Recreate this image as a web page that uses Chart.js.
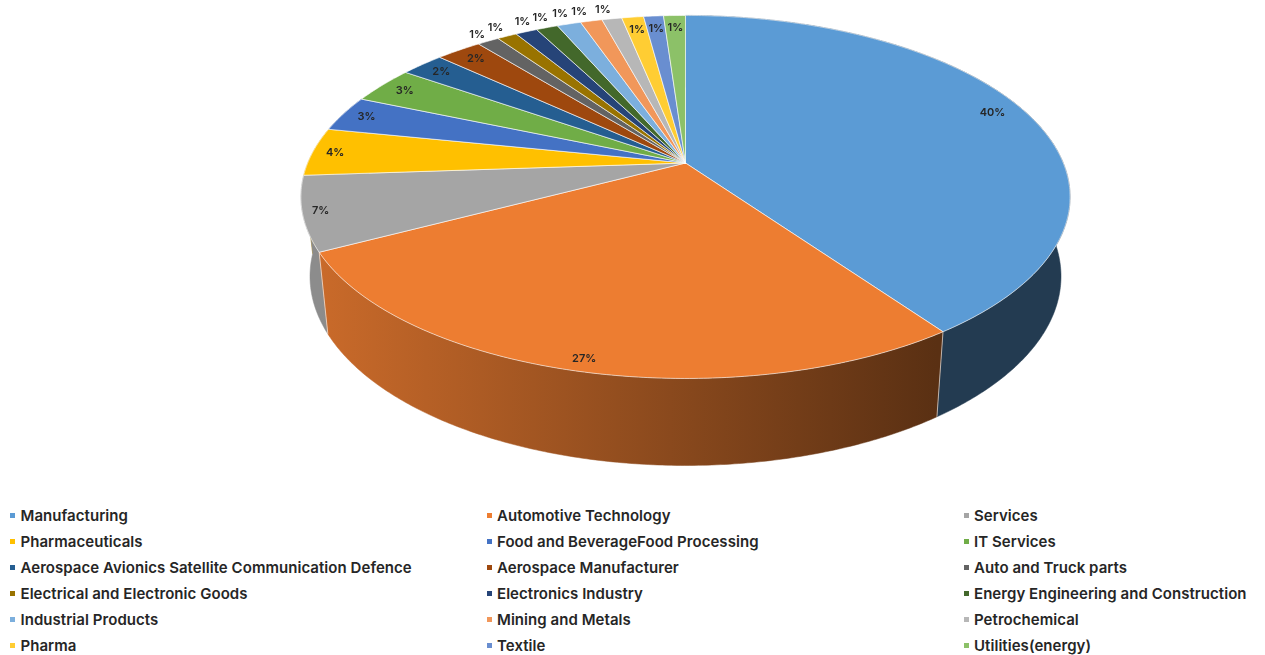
<!DOCTYPE html>
<html>
<head>
<meta charset="utf-8">
<title>Industry share</title>
<script src="https://cdn.jsdelivr.net/npm/chart.js@4"></script>
<style>
  html, body { margin: 0; background: #fff; }
  body { width: 1265px; height: 655px; position: relative; overflow: hidden; }
  #pie { position: absolute; left: 0; top: 0; width: 1265px; height: 500px; }
  #legend {
    position: absolute; left: 10px; top: 502.5px; margin: 0; padding: 0; list-style: none;
    display: grid; grid-template-columns: 476.5px 477px 300px; grid-auto-rows: 26px;
    font: 600 15px Inter, sans-serif; letter-spacing: 0.05px; color: #262626; white-space: nowrap;
  }
  #legend li { display: flex; align-items: center; }
  #legend i { width: 5px; height: 5px; margin-right: 5.5px; flex: none; }
</style>
</head>
<body>
<div id="pie"><canvas id="chart"></canvas></div>
<ul id="legend"></ul>
<script>
const categories = [
  'Manufacturing', 'Automotive Technology', 'Services',
  'Pharmaceuticals', 'Food and BeverageFood Processing', 'IT Services',
  'Aerospace Avionics Satellite Communication Defence', 'Aerospace Manufacturer', 'Auto and Truck parts',
  'Electrical and Electronic Goods', 'Electronics Industry', 'Energy Engineering and Construction',
  'Industrial Products', 'Mining and Metals', 'Petrochemical',
  'Pharma', 'Textile', 'Utilities(energy)'
];
const shares = [40.2, 27.1, 6.6, 4.3, 3.2, 3.3, 2.2, 2.3, 1.1, 1.0, 1.1, 1.1, 1.2, 1.1, 1.0, 1.1, 1.0, 1.1];
const colors = [
  '#5B9BD5', '#ED7D31', '#A5A5A5', '#FFC000', '#4472C4', '#70AD47',
  '#255E91', '#9E480E', '#636363', '#997300', '#264478', '#43682B',
  '#7CAFDD', '#F1975A', '#B7B7B7', '#FFCD33', '#698ED0', '#8CC168'
];
// how far out each percentage sits, as a fraction of the radius
const labelRadius = [.91, .95, .955, .94, .93, .92, .92, .915, 1.065, 1.075, 1.08, 1.085, 1.09, 1.085, 1.08, .9, .9, .9];
// small sideways nudges (radians) where labels were spread apart to avoid each other
const labelNudge = [-.03, 0, 0, 0, 0, 0, 0, 0, 0, 0, .022, .01, 0, -.016, -.012, 0, 0, 0];

// Chart.js only lays out a flat circle, so the slices go through a perspective
// projection of the disc: K pulls the near edge towards the viewer.
const K = 0.187;
const TOP = { rx: 2.325, ry: 1.078, dy: 0 };
const BASE = { rx: 2.27, ry: 1.123, dy: 78 };

function project(arc, angle, face, f = 1) {
  const u = f * Math.cos(angle), v = f * Math.sin(angle), w = 1 - K * v;
  return {
    x: arc.x + face.rx * arc.outerRadius * u / w,
    y: arc.y + face.dy + face.ry * arc.outerRadius * v / w
  };
}

function rimPoints(arc, face) {
  const n = Math.max(2, Math.ceil((arc.endAngle - arc.startAngle) / 0.01));
  const pts = [];
  for (let i = 0; i <= n; i++) {
    pts.push(project(arc, arc.startAngle + (arc.endAngle - arc.startAngle) * i / n, face));
  }
  return pts;
}

function shade(hex, f) {
  const n = parseInt(hex.slice(1), 16);
  return `rgb(${(n >> 16) * f}, ${((n >> 8) & 255) * f}, ${(n & 255) * f})`;
}

function trace(ctx, pts) {
  pts.forEach((p) => ctx.lineTo(p.x, p.y));
}

function drawWall(ctx, arc) {
  const top = rimPoints(arc, TOP), base = rimPoints(arc, BASE);
  // the wall gets darker from left to right across the whole pie
  const g = ctx.createLinearGradient(arc.x - 365, 0, arc.x + 251, 0);
  g.addColorStop(0, shade(arc.options.backgroundColor, 0.85));
  g.addColorStop(1, shade(arc.options.backgroundColor, 0.38));
  ctx.beginPath();
  trace(ctx, top);
  trace(ctx, base.reverse());
  ctx.closePath();
  ctx.fillStyle = g;
  ctx.strokeStyle = g;
  ctx.lineWidth = 0.5;
  ctx.fill();
  ctx.stroke();
}

function drawSeam(ctx, arc) {
  const a = project(arc, arc.startAngle, TOP), b = project(arc, arc.startAngle, BASE);
  ctx.beginPath();
  ctx.moveTo(a.x, a.y);
  ctx.lineTo(b.x, b.y);
  ctx.strokeStyle = arc.options.borderColor;
  ctx.lineWidth = arc.options.borderWidth;
  ctx.stroke();
}

function drawFace(ctx, arc) {
  ctx.beginPath();
  ctx.moveTo(arc.x, arc.y);
  trace(ctx, rimPoints(arc, TOP));
  ctx.closePath();
  ctx.fillStyle = arc.options.backgroundColor;
  ctx.strokeStyle = arc.options.borderColor;
  ctx.lineWidth = arc.options.borderWidth;
  ctx.lineJoin = 'round';
  ctx.fill();
  ctx.stroke();
}

const pie3d = {
  id: 'pie3d',
  beforeDatasetsDraw(chart) {
    const { ctx } = chart;
    const arcs = chart.getDatasetMeta(0).data;
    const midV = (a) => Math.sin((a.startAngle + a.endAngle) / 2);
    const front = arcs.filter((a) => Math.sin(a.endAngle) > -0.3 || Math.sin(a.startAngle) > -0.3);
    ctx.save();
    [...front].sort((a, b) => midV(a) - midV(b)).forEach((a) => drawWall(ctx, a));
    front.forEach((a) => {
      if (Math.sin(a.startAngle) > 0.2) drawSeam(ctx, a);
    });
    arcs.forEach((a) => drawFace(ctx, a));

    ctx.font = '600 11px Inter, sans-serif';
    ctx.fillStyle = '#262626';
    ctx.textAlign = 'center';
    ctx.textBaseline = 'middle';
    arcs.forEach((a, i) => {
      const mid = (a.startAngle + a.endAngle) / 2 + labelNudge[i];
      const p = project(a, mid, TOP, labelRadius[i]);
      ctx.fillText(Math.round(shares[i]) + '%', p.x, p.y);
    });
    ctx.restore();
    return false; // slices are done, skip the flat circle
  }
};

const htmlLegend = {
  id: 'htmlLegend',
  afterUpdate(chart) {
    const list = document.getElementById('legend');
    list.innerHTML = '';
    chart.options.plugins.legend.labels.generateLabels(chart).forEach((item) => {
      const li = document.createElement('li');
      const box = document.createElement('i');
      box.style.background = item.fillStyle;
      li.append(box, item.text);
      list.append(li);
    });
  }
};

new Chart(document.getElementById('chart'), {
  type: 'pie',
  data: {
    labels: categories,
    datasets: [{
      data: shares,
      backgroundColor: colors,
      borderColor: 'rgba(255, 255, 255, 0.6)',
      borderWidth: 1
    }]
  },
  options: {
    responsive: true,
    maintainAspectRatio: false,
    animation: false,
    layout: { padding: { left: 106, bottom: 174 } },
    plugins: {
      legend: { display: false },
      tooltip: { enabled: false }
    }
  },
  plugins: [pie3d, htmlLegend]
});
</script>
</body>
</html>
